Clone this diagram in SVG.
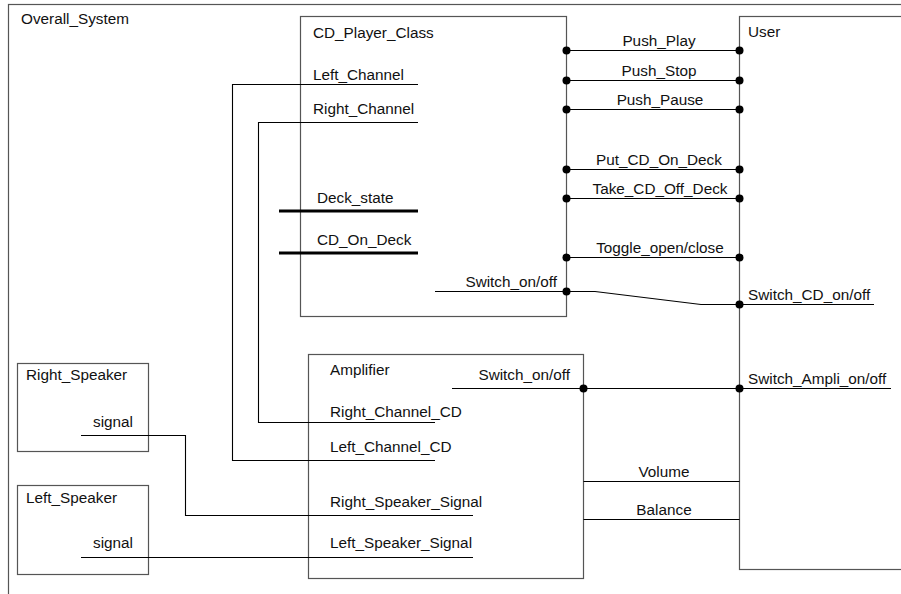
<svg xmlns="http://www.w3.org/2000/svg" width="901" height="594" viewBox="0 0 901 594">
<style>
.box{fill:none;stroke:#555;stroke-width:1.2}
.ln{fill:none;stroke:#000;stroke-width:1.1}
.thick{fill:none;stroke:#000;stroke-width:3}
text{font-family:"Liberation Sans",Arial,Helvetica,sans-serif;font-size:15.3px;fill:#111}
.c{text-anchor:middle}
.r{text-anchor:end}
.dot{fill:#000}
</style>
<rect width="901" height="594" fill="#fff"/>
<g id="Overall_System">
<rect class="box" x="8.5" y="4.5" width="920" height="620"/>
<text x="21" y="24">Overall_System</text>
</g>
<g id="CD_Player_Class">
<rect class="box" x="300.5" y="16.5" width="266" height="300"/>
<text x="313" y="38">CD_Player_Class</text>
<text x="313" y="80">Left_Channel</text>
<text x="313" y="114">Right_Channel</text>
<text x="317" y="203">Deck_state</text>
<text x="317" y="245">CD_On_Deck</text>
<text class="r" x="557" y="287">Switch_on/off</text>
</g>
<g id="User">
<rect class="box" x="739.5" y="16.5" width="200" height="553"/>
<text x="748" y="37">User</text>
<text x="748" y="300">Switch_CD_on/off</text>
<text x="748" y="384">Switch_Ampli_on/off</text>
</g>
<g id="Amplifier">
<rect class="box" x="308.5" y="354.5" width="275" height="224"/>
<text x="330" y="375">Amplifier</text>
<text class="r" x="570" y="380">Switch_on/off</text>
<text x="330" y="417">Right_Channel_CD</text>
<text x="330" y="452">Left_Channel_CD</text>
<text x="330" y="507">Right_Speaker_Signal</text>
<text x="330" y="548">Left_Speaker_Signal</text>
</g>
<g id="Right_Speaker">
<rect class="box" x="17.5" y="363.5" width="131" height="88"/>
<text x="26" y="380">Right_Speaker</text>
<text x="93" y="427">signal</text>
</g>
<g id="Left_Speaker">
<rect class="box" x="17.5" y="485.5" width="131" height="89"/>
<text x="26" y="503">Left_Speaker</text>
<text x="93" y="548">signal</text>
</g>
<g id="connectors">
<line class="ln" x1="566.5" y1="50.5" x2="739.5" y2="50.5"/>
<line class="ln" x1="566.5" y1="80.5" x2="739.5" y2="80.5"/>
<line class="ln" x1="566.5" y1="109.5" x2="739.5" y2="109.5"/>
<line class="ln" x1="566.5" y1="169.5" x2="739.5" y2="169.5"/>
<line class="ln" x1="566.5" y1="198.5" x2="739.5" y2="198.5"/>
<line class="ln" x1="566.5" y1="257.5" x2="739.5" y2="257.5"/>
<polyline class="ln" points="435,291.5 595,291.5 701,304.5 874,304.5"/>
<line class="ln" x1="452" y1="388.5" x2="891" y2="388.5"/>
<line class="ln" x1="583.5" y1="481.5" x2="739.5" y2="481.5"/>
<line class="ln" x1="583.5" y1="519.5" x2="739.5" y2="519.5"/>
<polyline class="ln" points="418,84.5 232.5,84.5 232.5,460.5 435,460.5"/>
<polyline class="ln" points="418,122.5 258.5,122.5 258.5,422.5 435,422.5"/>
<polyline class="ln" points="81,435.5 185.5,435.5 185.5,515.5 473,515.5"/>
<line class="ln" x1="81" y1="557.5" x2="473" y2="557.5"/>
<line class="thick" x1="279" y1="211" x2="418" y2="211"/>
<line class="thick" x1="279" y1="253" x2="418" y2="253"/>
<g class="dot">
<circle cx="566.5" cy="50.5" r="4"/><circle cx="739.5" cy="50.5" r="4"/>
<circle cx="566.5" cy="80.5" r="4"/><circle cx="739.5" cy="80.5" r="4"/>
<circle cx="566.5" cy="109.5" r="4"/><circle cx="739.5" cy="109.5" r="4"/>
<circle cx="566.5" cy="169.5" r="4"/><circle cx="739.5" cy="169.5" r="4"/>
<circle cx="566.5" cy="198.5" r="4"/><circle cx="739.5" cy="198.5" r="4"/>
<circle cx="566.5" cy="257.5" r="4"/><circle cx="739.5" cy="257.5" r="4"/>
<circle cx="566.5" cy="291.5" r="4"/><circle cx="739.5" cy="304.5" r="4"/>
<circle cx="583.5" cy="388.5" r="4"/><circle cx="739.5" cy="388.5" r="4"/>
</g>
<text class="c" x="659" y="46">Push_Play</text>
<text class="c" x="659" y="76">Push_Stop</text>
<text class="c" x="660" y="105">Push_Pause</text>
<text class="c" x="659" y="165">Put_CD_On_Deck</text>
<text class="c" x="660" y="194">Take_CD_Off_Deck</text>
<text class="c" x="660" y="253">Toggle_open/close</text>
<text class="c" x="664" y="477">Volume</text>
<text class="c" x="664" y="515">Balance</text>
</g>
</svg>
